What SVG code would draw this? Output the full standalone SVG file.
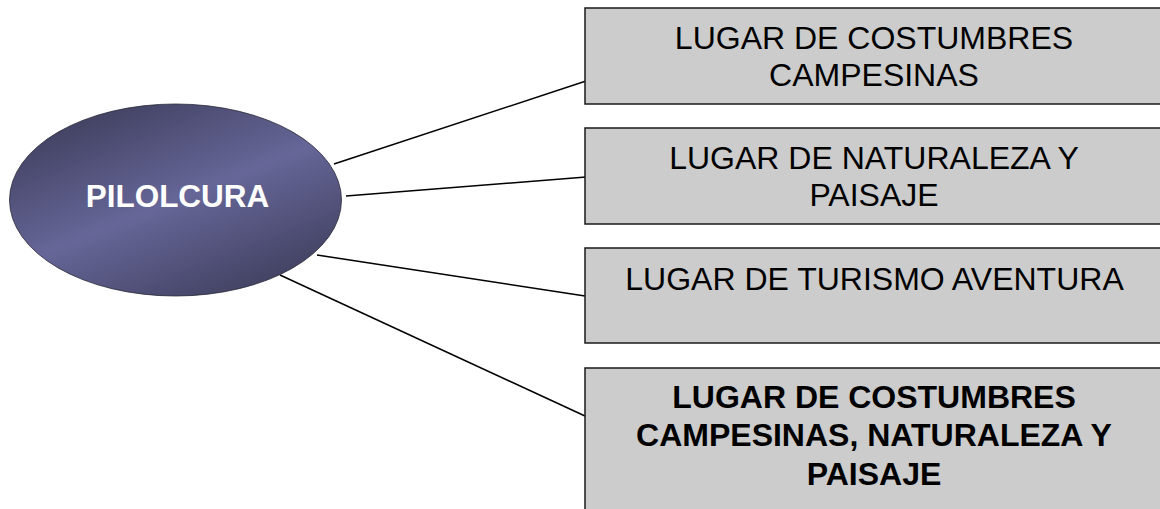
<svg xmlns="http://www.w3.org/2000/svg" width="1160" height="509" viewBox="0 0 1160 509">
<defs>
<linearGradient id="ov" x1="0.15" y1="0" x2="0.85" y2="1">
<stop offset="0" stop-color="#3c3c5a"/>
<stop offset="0.5" stop-color="#666698"/>
<stop offset="1" stop-color="#3c3c5a"/>
</linearGradient>
<style>
.box{fill:#cccccc;stroke:#1a1a1a;stroke-width:1.5}
.t{font-family:"Liberation Sans",Arial,sans-serif;font-size:32px;fill:#000;text-anchor:middle}
.b{font-weight:bold}
.conn line{stroke:#000;stroke-width:1.5}
</style>
</defs>
<rect width="1160" height="509" fill="#fff"/>
<g id="connectors" class="conn">
<line x1="334" y1="164" x2="586" y2="81"/>
<line x1="346" y1="196" x2="586" y2="177"/>
<line x1="317" y1="255" x2="585" y2="296"/>
<line x1="280" y1="275" x2="585" y2="416"/>
</g>
<g id="pilolcura">
<ellipse cx="175.5" cy="200" rx="166" ry="96" fill="url(#ov)" stroke="#2a2a3a" stroke-width="0.8"/>
<text x="177.5" y="207" font-family="'Liberation Sans',Arial,sans-serif" font-size="31.5px" font-weight="bold" fill="#fff" text-anchor="middle">PILOLCURA</text>
</g>
<g id="box1">
<rect class="box" x="585" y="8" width="590" height="96"/>
<text class="t" x="874" y="48.5">LUGAR DE COSTUMBRES</text>
<text class="t" x="874" y="85.5">CAMPESINAS</text>
</g>
<g id="box2">
<rect class="box" x="585" y="128" width="590" height="96"/>
<text class="t" x="874" y="168.5">LUGAR DE NATURALEZA Y</text>
<text class="t" x="874" y="205.5">PAISAJE</text>
</g>
<g id="box3">
<rect class="box" x="585" y="248" width="590" height="95"/>
<text class="t" x="874.5" y="290">LUGAR DE TURISMO AVENTURA</text>
</g>
<g id="box4">
<rect class="box" x="585" y="368" width="590" height="160"/>
<text class="t b" x="874" y="408">LUGAR DE COSTUMBRES</text>
<text class="t b" x="874" y="446">CAMPESINAS, NATURALEZA Y</text>
<text class="t b" x="874" y="485">PAISAJE</text>
</g>
</svg>
